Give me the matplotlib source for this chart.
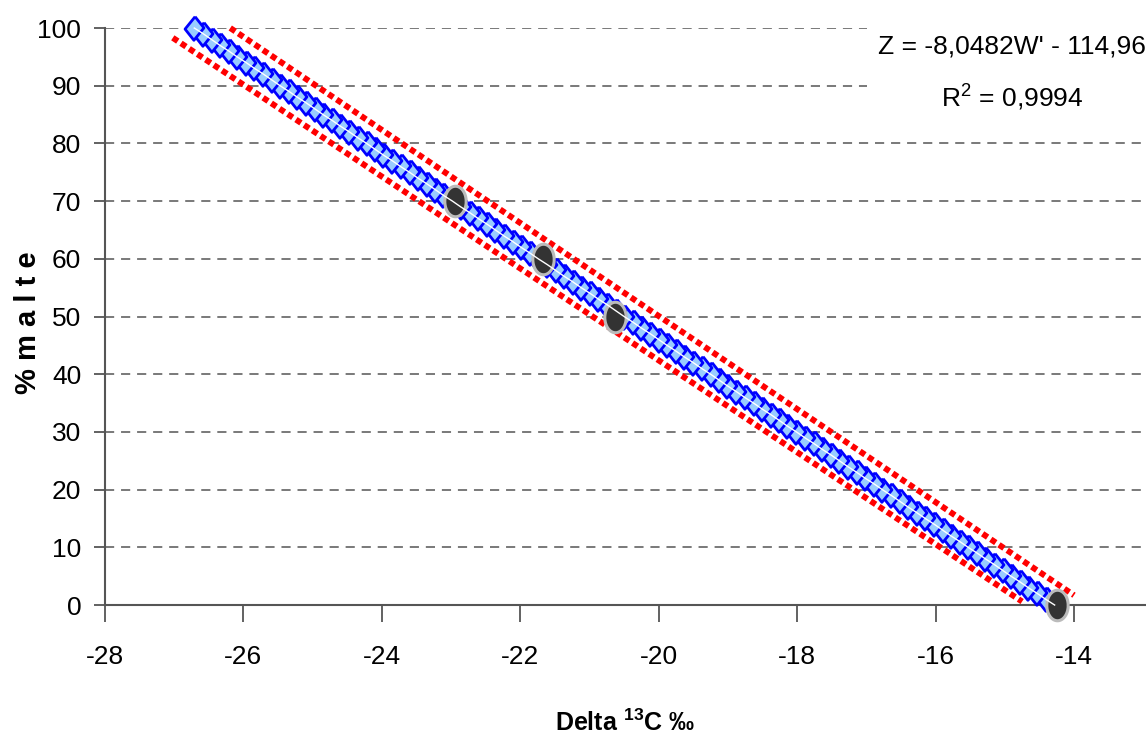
#!/usr/bin/env python3
# -*- coding: utf-8 -*-

import numpy as np
import matplotlib
matplotlib.use("Agg")
import matplotlib.pyplot as plt

# === DATOS ===
# % malte (0..100) y delta 13C de la curva de calibracion
pct_malte = list(range(0, 101))
delta_c13 = [
    -14.28, -14.41, -14.53, -14.66, -14.78, -14.91, -15.03, -15.15, -15.28, -15.40,
    -15.53, -15.65, -15.78, -15.90, -16.02, -16.15, -16.27, -16.40, -16.52, -16.64,
    -16.77, -16.89, -17.02, -17.14, -17.27, -17.39, -17.51, -17.64, -17.76, -17.89,
    -18.01, -18.14, -18.26, -18.38, -18.51, -18.63, -18.76, -18.88, -19.01, -19.13,
    -19.25, -19.38, -19.50, -19.63, -19.75, -19.88, -20.00, -20.12, -20.25, -20.37,
    -20.50, -20.62, -20.74, -20.87, -20.99, -21.12, -21.24, -21.37, -21.49, -21.61,
    -21.74, -21.86, -21.99, -22.11, -22.24, -22.36, -22.48, -22.61, -22.73, -22.86,
    -22.98, -23.11, -23.23, -23.35, -23.48, -23.60, -23.73, -23.85, -23.98, -24.10,
    -24.22, -24.35, -24.47, -24.60, -24.72, -24.85, -24.97, -25.09, -25.22, -25.34,
    -25.47, -25.59, -25.71, -25.84, -25.96, -26.09, -26.21, -26.34, -26.46, -26.58,
    -26.71,
]

# muestras medidas
sample_delta = [-22.94, -21.67, -20.63, -14.25]
sample_pct = [70, 60, 50, 0]

# bandas de confianza (extremos)
upper_delta = [-26.19, -14.00]
upper_pct = [100, 1.7]
lower_delta = [-27.02, -14.75]
lower_pct = [98.3, 0.6]

eq_text = "Z = -8,0482W' - 114,96"
r2_text = "R$^2$ = 0,9994"

x_ticks = list(range(-28, -13, 2))
y_ticks = list(range(0, 101, 10))

# === ESTILO ===
plt.rcParams['font.family'] = ['Liberation Sans', 'DejaVu Sans']
plt.rcParams['mathtext.fontset'] = 'custom'
plt.rcParams['mathtext.rm'] = 'Liberation Sans'
plt.rcParams['mathtext.bf'] = 'Liberation Sans:bold'

axis_col = "#555555"

fig = plt.figure(figsize=(11.46, 7.43), dpi=100)
ax = fig.add_axes([0.0916, 0.1857, 0.9084, 0.7766])

# rejilla horizontal
for yv in y_ticks[1:]:
    ax.axhline(yv, color=axis_col, lw=1.1, dashes=(6, 4.5), zorder=1)

# marcadores personalizados: rombo y elipse
diamond = [(0.05, 1), (0.8, 0.05), (-0.05, -1), (-0.8, -0.05), (0.05, 1)]
t = np.linspace(0, 2 * np.pi, 40)
ellipse = list(zip(0.7 * np.cos(t), np.sin(t)))

# bandas rojas punteadas
for xs, ys in [(upper_delta, upper_pct), (lower_delta, lower_pct)]:
    ax.plot(xs, ys, color="red", lw=4.3, dashes=(1.0, 0.65),
            dash_capstyle='butt', zorder=2, clip_on=False)

# curva de calibracion
ax.plot(delta_c13, pct_malte, linestyle="none", marker=diamond, markersize=17,
        markerfacecolor="#99CCFF", markeredgecolor="#0000FF", markeredgewidth=2,
        zorder=3, clip_on=False)

# muestras
ax.plot(sample_delta, sample_pct, linestyle="none", marker=ellipse, markersize=22,
        markerfacecolor="#333333", markeredgecolor="#BBBBBB", markeredgewidth=2.2,
        zorder=4, clip_on=False)

# linea de tendencia
ax.plot(delta_c13, pct_malte, color="white", lw=1, zorder=5, clip_on=False)

# ejes
ax.set_xlim(-28, -12.96)
ax.set_ylim(0, 100)
ax.set_xticks(x_ticks)
ax.set_yticks(y_ticks)
ax.set_xticklabels([str(v) for v in x_ticks])
ax.tick_params(axis='x', direction='out', length=12, width=1.3, color=axis_col,
               pad=17, labelsize=19)
ax.tick_params(axis='y', direction='out', length=8, width=1.3, color=axis_col,
               pad=9, labelsize=19)
for side in ['top', 'right']:
    ax.spines[side].set_visible(False)
for side in ['left', 'bottom']:
    ax.spines[side].set_color(axis_col)
    ax.spines[side].set_linewidth(1.5)

# etiquetas
fig.text(0.545, 0.027, r"Delta $^{\mathbf{13}}$C ‰", ha='center', va='center',
         fontsize=18, fontweight='bold')
fig.text(0.024, 0.566, "% m a l t e", ha='center', va='center', rotation=90,
         fontsize=21, fontweight='bold')

# ecuacion
ax.text(0.871, 0.922, eq_text + "\n" + r2_text, transform=ax.transAxes,
        ha='center', va='center', fontsize=19, linespacing=1.9, zorder=6,
        bbox=dict(facecolor='white', edgecolor='none', pad=8))

plt.savefig("out.png", dpi=100)
plt.close()
